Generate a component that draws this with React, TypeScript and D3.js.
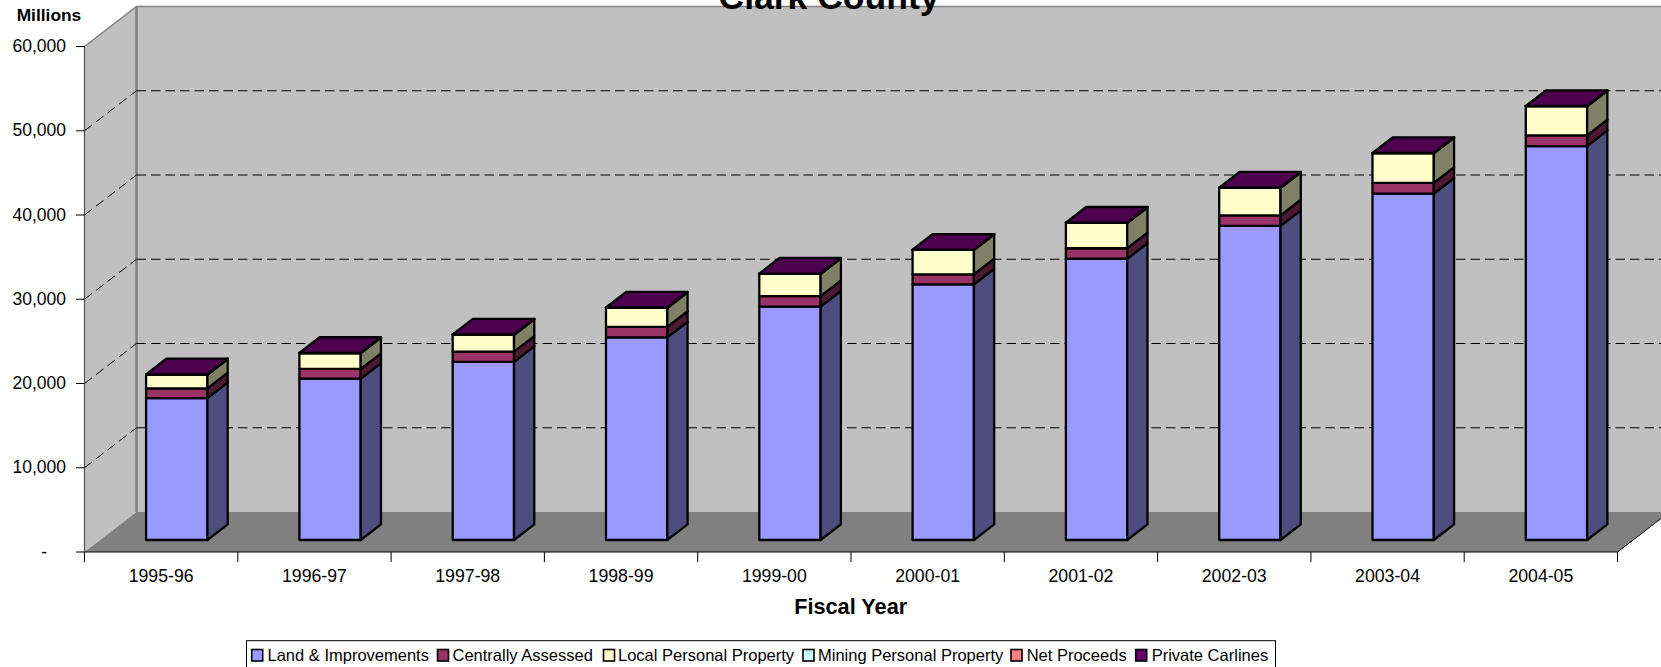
import React from "react";
import * as d3 from "d3";

const years = ["1995-96", "1996-97", "1997-98", "1998-99", "1999-00", "2000-01", "2001-02", "2002-03", "2003-04", "2004-05"];
const land = [16850, 19150, 21150, 24050, 27700, 30340, 33380, 37280, 41120, 46760];
const central = [1150, 1150, 1200, 1250, 1250, 1200, 1250, 1250, 1270, 1270];
const localProp = [1630, 1880, 2010, 2260, 2640, 2890, 3010, 3270, 3520, 3460];
const mining = [10, 10, 10, 10, 10, 10, 10, 10, 10, 10];
const netProceeds = [5, 5, 5, 5, 5, 5, 5, 5, 5, 5];
const carlines = [20, 20, 20, 20, 20, 20, 20, 20, 20, 20];
const seriesNames = ["Land & Improvements", "Centrally Assessed", "Local Personal Property", "Mining Personal Property", "Net Proceeds", "Private Carlines"];
const seriesValues = [land, central, localProp, mining, netProceeds, carlines];
const seriesColors = ["#9999ff", "#993366", "#ffffcc", "#ccffff", "#ff8080", "#660066"];
const yTicks = [0, 10000, 20000, 30000, 40000, 50000, 60000];

const width = 1661;
const height = 667;
const font = "'Liberation Sans', Arial, sans-serif";

// plot box on the front plane, the walls sit depthX/depthY behind it
const left = 84.5;
const right = 1617.5;
const top = 46.5;
const bottom = 552;
const depthX = 52;
const depthY = 40;

const x = d3.scaleBand<string>().domain(years).range([left, right]).paddingInner(0.6).paddingOuter(0.3);
const slots = d3.scaleBand<string>().domain(years).range([left, right]);
const y = d3.scaleLinear().domain([0, 60000]).range([bottom, top]);
const depth = d3.scaleLinear().domain([0, 1]).range([0, depthY]);
const barFront = 0.3;
const barBack = 0.69;

const rows = years.map((year, i) => {
  const row: any = { year };
  seriesNames.forEach((name, s) => (row[name] = seriesValues[s][i]));
  return row;
});
const stacked = d3.stack<any>().keys(seriesNames)(rows);

const pts = (p: number[][]) => p.map((d) => d.join(",")).join(" ");
const shade = (c: string, k: number) => {
  const o = d3.rgb(c);
  return d3.rgb(o.r * k, o.g * k, o.b * k).formatHex();
};
const tickLabel = (v: number) => (v === 0 ? "-" : d3.format(",")(v));

const legendSwatchX = [251.7, 437.5, 603.5, 803, 1011, 1135.7];
const legendTextX = [267.5, 452.5, 618, 818, 1026.7, 1151.7];

export default function App() {
  const front = depth(barFront);
  const back = depth(barBack);
  const fx = front * (depthX / depthY);
  const bx = back * (depthX / depthY);
  return (
    <svg width={width} height={height} viewBox={`0 0 ${width} ${height}`} style={{ position: "absolute", left: 0, top: 0, display: "block", background: "#fff" }} fontFamily={font}>
      {/* walls and floor */}
      <polygon points={pts([[left + depthX, top - depthY], [right + depthX, top - depthY], [right + depthX, bottom - depthY], [left + depthX, bottom - depthY]])} fill="#c0c0c0" />
      <polygon points={pts([[left, top], [left + depthX, top - depthY], [left + depthX, bottom - depthY], [left, bottom]])} fill="#c0c0c0" />
      <polygon points={pts([[left, bottom], [left + depthX, bottom - depthY], [right + depthX, bottom - depthY], [right, bottom]])} fill="#808080" />
      <polyline points={pts([[left, top], [left + depthX, top - depthY], [width, top - depthY]])} fill="none" stroke="#808080" strokeWidth={1.5} />
      <line x1={left + depthX} x2={left + depthX} y1={top - depthY} y2={bottom - depthY} stroke="#808080" strokeWidth={2.5} />
      <line x1={left} x2={left} y1={top} y2={bottom} stroke="#555" strokeWidth={1.2} />

      {/* gridlines */}
      {yTicks.slice(1, -1).map((t) => (
        <g key={t} stroke="#000" strokeWidth={1} strokeDasharray="9.5 5" fill="none">
          <line x1={left} y1={y(t)} x2={left + depthX} y2={y(t) - depthY} />
          <line x1={left + depthX} y1={y(t) - depthY} x2={width} y2={y(t) - depthY} />
        </g>
      ))}

      {/* bars */}
      {years.map((year, i) => {
        const x0 = x(year)! + fx;
        const x1 = x0 + x.bandwidth();
        const dx = bx - fx;
        const dy = back - front;
        const yTop = y(stacked[stacked.length - 1][i][1]) - front;
        return (
          <g key={year} stroke="#000" strokeWidth={2.3} strokeLinejoin="round">
            {stacked.map((layer, s) => {
              const yb = y(layer[i][0]) - front;
              const yt = y(layer[i][1]) - front;
              const c = seriesColors[s];
              return (
                <g key={layer.key}>
                  <rect x={x0} y={yt} width={x1 - x0} height={yb - yt} fill={c} />
                  <polygon points={pts([[x1, yb], [x1 + dx, yb - dy], [x1 + dx, yt - dy], [x1, yt]])} fill={shade(c, 0.5)} />
                </g>
              );
            })}
            <polygon points={pts([[x0, yTop], [x0 + dx, yTop - dy], [x1 + dx, yTop - dy], [x1, yTop]])} fill="#4d004d" />
          </g>
        );
      })}

      {/* axes */}
      <line x1={left} x2={right} y1={bottom} y2={bottom} stroke="#000" strokeWidth={1.2} />
      <line x1={right} x2={right + depthX} y1={bottom} y2={bottom - depthY} stroke="#000" strokeWidth={1} />
      {yTicks.map((t) => (
        <g key={t}>
          <line x1={left - 8.5} x2={left} y1={y(t)} y2={y(t)} stroke="#000" strokeWidth={1} />
          <text x={t === 0 ? 47 : 66} y={y(t) + 5.7} textAnchor="end" fontSize={17.5} fill="#000">{tickLabel(t)}</text>
        </g>
      ))}
      {d3.range(0, years.length + 1).map((i) => (
        <line key={i} x1={left + slots.step() * i} x2={left + slots.step() * i} y1={bottom} y2={bottom + 10} stroke="#000" strokeWidth={1} />
      ))}
      {years.map((year) => (
        <text key={year} x={slots(year)! + slots.bandwidth() / 2} y={581.7} textAnchor="middle" fontSize={17.7} fill="#000">{year}</text>
      ))}
      <text x={16.7} y={20.7} fontSize={17.3} fontWeight="bold" textLength={64.5} lengthAdjust="spacingAndGlyphs">Millions</text>
      <text x={829} y={8.5} textAnchor="middle" fontSize={35.5} fontWeight="bold">Clark County</text>
      <text x={850.7} y={614} textAnchor="middle" fontSize={21.7} fontWeight="bold">Fiscal Year</text>

      {/* legend */}
      <rect x={246.5} y={640.7} width={1029} height={30} fill="#fff" stroke="#000" strokeWidth={1} />
      {seriesNames.map((name, s) => (
        <g key={name}>
          <rect x={legendSwatchX[s]} y={649.5} width={11} height={11.5} fill={seriesColors[s]} stroke="#000" strokeWidth={1.6} />
          <text x={legendTextX[s]} y={661} fontSize={16.5}>{name}</text>
        </g>
      ))}
    </svg>
  );
}
